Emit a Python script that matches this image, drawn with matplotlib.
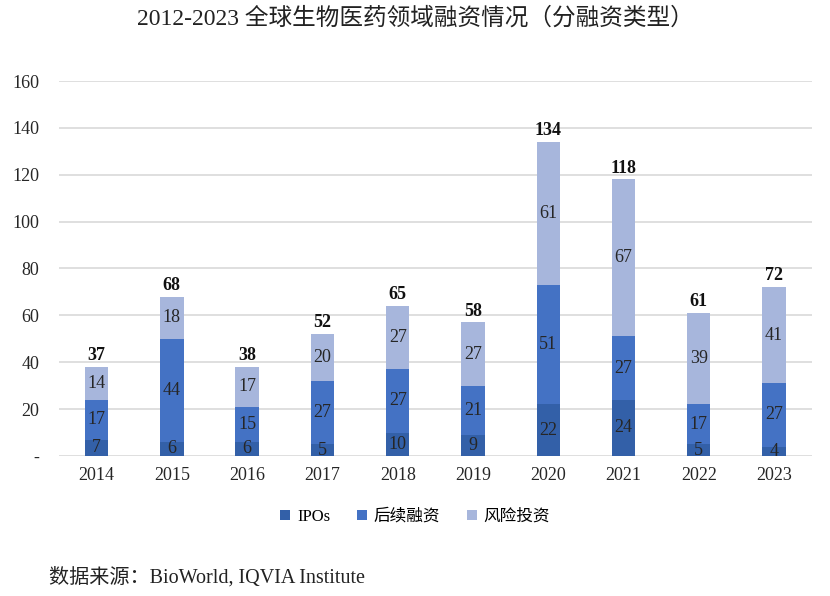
import matplotlib
matplotlib.use("Agg")
import matplotlib.pyplot as plt
from matplotlib.patches import Patch
import numpy as np

plt.rcParams['font.family'] = ['Liberation Serif', 'Noto Sans CJK SC', 'DejaVu Sans']

years = ['2014', '2015', '2016', '2017', '2018', '2019', '2020', '2021', '2022', '2023']
ipos = [7, 6, 6, 5, 10, 9, 22, 24, 5, 4]
follow_on = [17, 44, 15, 27, 27, 21, 51, 27, 17, 27]
venture = [14, 18, 17, 20, 27, 27, 61, 67, 39, 41]
totals = [37, 68, 38, 52, 65, 58, 134, 118, 61, 72]
series_names = ['IPOs', '后续融资', '风险投资']
yticks = [0, 20, 40, 60, 80, 100, 120, 140, 160]
ytick_labels = ['-', '20', '40', '60', '80', '100', '120', '140', '160']

title = '2012-2023 全球生物医药领域融资情况（分融资类型）'
source = '数据来源：BioWorld, IQVIA Institute'

colors = ['#3360a8', '#4472c4', '#a7b6dc']

fig = plt.figure(figsize=(8.30, 5.96), dpi=100)
ax = fig.add_axes([0.071, 0.235, 0.907, 0.629])

x = np.arange(len(years))
w = 0.31
data = [ipos, follow_on, venture]
bottom = np.zeros(len(years))
for vals, c, name in zip(data, colors, series_names):
    vals = np.array(vals, dtype=float)
    ax.bar(x, vals, w, bottom=bottom, color=c, label=name, zorder=3)
    for xi, b, v in zip(x, bottom, vals):
        ax.text(xi, b + v / 2, f'{int(v)}', ha='center', va='center',
                fontsize=13, color='#262626', zorder=4)
    bottom += vals

for xi, top, t in zip(x, bottom, totals):
    ax.text(xi, top + 1.2, f'{t}', ha='center', va='bottom', fontsize=13,
            fontweight='bold', color='#111111', zorder=4)

ax.set_xlim(-0.5, len(years) - 0.5)
ax.set_ylim(0, 160)
ax.set_yticks(yticks)
ax.set_yticklabels(ytick_labels)
ax.set_xticks(x)
ax.set_xticklabels(years)
ax.tick_params(axis='both', length=0, labelsize=13, colors='#262626')
ax.tick_params(axis='y', pad=14)
ax.tick_params(axis='x', pad=8)
ax.grid(axis='y', color='#d9d9d9', linewidth=1.2, zorder=0)
ax.set_axisbelow(True)
for s in ax.spines.values():
    s.set_visible(False)

handles = [Patch(facecolor=c, edgecolor='none') for c in colors]
fig.legend(handles, series_names, loc='center', bbox_to_anchor=(0.5, 1 - 517 / 596),
           ncol=3, frameon=False, fontsize=12, handlelength=0.6, handleheight=0.6,
           handletextpad=0.4, columnspacing=1.6)

fig.text(0.5, 1 - 18 / 596, title, ha='center', va='center', fontsize=17, color='#222222')
fig.text(49 / 830, 1 - 577 / 596, source, ha='left', va='center', fontsize=14.5, color='#222222')

fig.savefig('out.png', dpi=100, facecolor='white')
